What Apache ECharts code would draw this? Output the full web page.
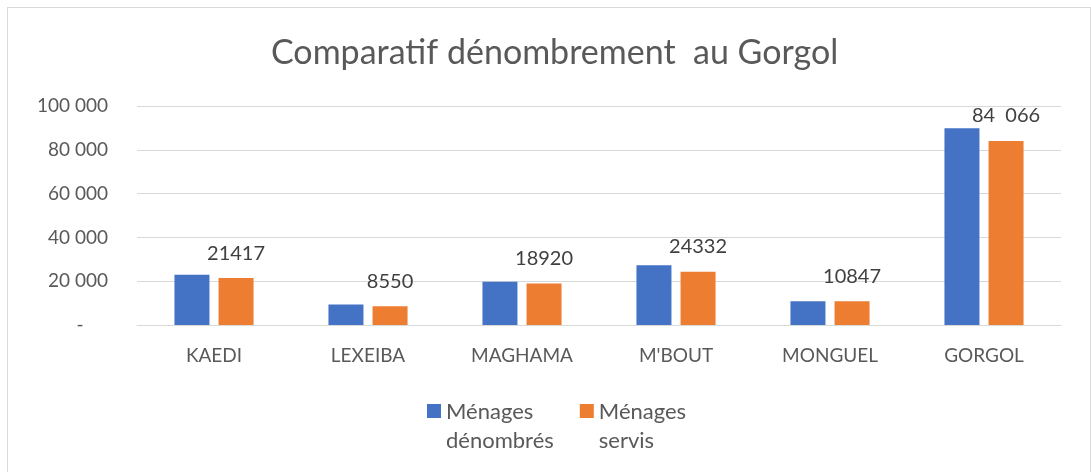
<!DOCTYPE html>
<html>
<head>
<meta charset="utf-8">
<script src="https://cdn.jsdelivr.net/npm/echarts@6/dist/echarts.min.js"></script>
<style>
    html, body { margin: 0; padding: 0; background: #fff; }
    #frame { position: absolute; left: 7px; top: 7px; width: 1082px; height: 480px; border: 1px solid #d9d9d9; }
    #chart { position: absolute; left: 0; top: 0; width: 1091px; height: 472px; }
</style>
</head>
<body>
<div id="frame"></div>
<div id="chart"></div>
<script>
// communes du Gorgol
var categories = ['KAEDI', 'LEXEIBA', 'MAGHAMA', "M'BOUT", 'MONGUEL', 'GORGOL'];
var menagesDenombres = [22900, 9400, 19800, 27300, 10900, 89800];
var menagesServis = [21417, 8550, 18920, 24332, 10847, 84066];
var servisLabels = ['21417', '8550', '18920', '24332', '10847', '84  066'];
var yTicks = [0, 20000, 40000, 60000, 80000, 100000];

var font = 'Lato';

function formatTick(v) {
    if (v === 0) return '-     ';
    return String(v).replace(/\B(?=(\d{3})+(?!\d))/g, ' ');
}

var myChart = echarts.init(document.getElementById('chart'));
var option = {
    backgroundColor: 'transparent',
    animation: false,
    title: {
        text: 'Comparatif dénombrement  au Gorgol',
        left: 266,
        top: 31,
        textStyle: {
            fontFamily: font,
            fontSize: 34,
            fontWeight: 'normal',
            color: '#595959'
        }
    },
    grid: {
        left: 137,
        right: 30,
        top: 106,
        bottom: 147
    },
    legend: {
        left: 427,
        top: 397,
        padding: 0,
        itemWidth: 14,
        itemHeight: 44,
        itemGap: 26,
        icon: 'path://M0,0h14v14h-14z M0,44',
        textStyle: {
            fontFamily: font,
            fontSize: 22,
            lineHeight: 29,
            color: '#595959'
        },
        data: ['Ménages\ndénombrés', 'Ménages\nservis']
    },
    xAxis: {
        type: 'category',
        data: categories,
        axisLine: { lineStyle: { color: '#d9d9d9', width: 1 } },
        axisTick: { show: false },
        axisLabel: {
            margin: 21,
            fontFamily: font,
            fontSize: 19,
            color: '#595959'
        }
    },
    yAxis: {
        type: 'value',
        min: yTicks[0],
        max: yTicks[yTicks.length - 1],
        interval: yTicks[1] - yTicks[0],
        axisLine: { show: false },
        axisTick: { show: false },
        splitLine: { lineStyle: { color: '#d9d9d9', width: 1 } },
        axisLabel: {
            margin: 29,
            fontFamily: font,
            fontSize: 19,
            color: '#595959',
            formatter: formatTick
        }
    },
    series: [
        {
            name: 'Ménages\ndénombrés',
            type: 'bar',
            barWidth: 35,
            barGap: '26%',
            itemStyle: { color: '#4472c4' },
            data: menagesDenombres
        },
        {
            name: 'Ménages\nservis',
            type: 'bar',
            barWidth: 35,
            barGap: '26%',
            itemStyle: { color: '#ed7d31' },
            label: {
                show: true,
                position: 'top',
                distance: 15,
                fontFamily: font,
                fontSize: 20,
                color: '#404040',
                formatter: function (p) { return servisLabels[p.dataIndex]; }
            },
            data: menagesServis
        }
    ]
};
myChart.setOption(option);
</script>
</body>
</html>
